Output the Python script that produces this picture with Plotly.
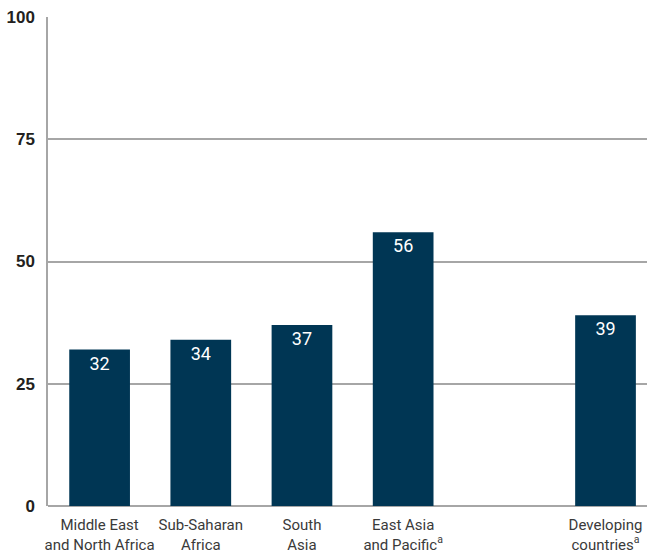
import plotly.graph_objects as go

categories = ["Middle East<br>and North Africa", "Sub-Saharan<br>Africa", "South<br>Asia",
              "East Asia<br>and Pacific<sup>a</sup>", "", "Developing<br>countries<sup>a</sup>"]
positions = [0, 1, 2, 3, 4, 5]
values = [32, 34, 37, 56, None, 39]
y_ticks = [0, 25, 50, 75, 100]

bar_x = [p for p, v in zip(positions, values) if v is not None]
bar_y = [v for v in values if v is not None]
bar_labels = [c for c, v in zip(categories, values) if v is not None]

fig = go.Figure()
fig.add_trace(go.Bar(
    x=bar_x, y=bar_y, width=0.6,
    marker=dict(color="#003654", line=dict(width=0)),
    text=[str(v) for v in bar_y], textposition="inside", insidetextanchor="end",
    textfont=dict(color="white", size=18, family="Liberation Sans Narrow, Roboto, sans-serif"),
    cliponaxis=False,
))

fig.update_layout(
    width=647, height=553,
    margin=dict(l=48, r=0, t=17, b=47),
    plot_bgcolor="white", paper_bgcolor="white",
    showlegend=False,
    bargap=0.4,
)
fig.update_xaxes(
    range=[-0.51, 5.41], tickmode="array", tickvals=bar_x, ticktext=bar_labels,
    showgrid=False, zeroline=False, showline=False, automargin=False,
    tickfont=dict(size=15, color="#3a3a3a", family="Liberation Sans Narrow, Roboto, sans-serif"),
    ticks="", ticklabelstandoff=8,
)
fig.update_yaxes(
    range=[0, 100], tickmode="array", tickvals=y_ticks,
    ticktext=[f"<b>{t}</b>" for t in y_ticks], automargin=False,
    showgrid=True, gridcolor="#a6a6a6", gridwidth=1.5,
    zeroline=True, zerolinecolor="#a6a6a6", zerolinewidth=1.5,
    showline=True, linecolor="#a6a6a6", linewidth=1.5,
    tickfont=dict(size=17, color="#231f20", family="Liberation Sans, Arial, sans-serif"),
    ticks="", ticklabelstandoff=8,
)

fig.write_html("out.html", config={"displayModeBar": False},
               post_script="document.body.style.margin='0';")
